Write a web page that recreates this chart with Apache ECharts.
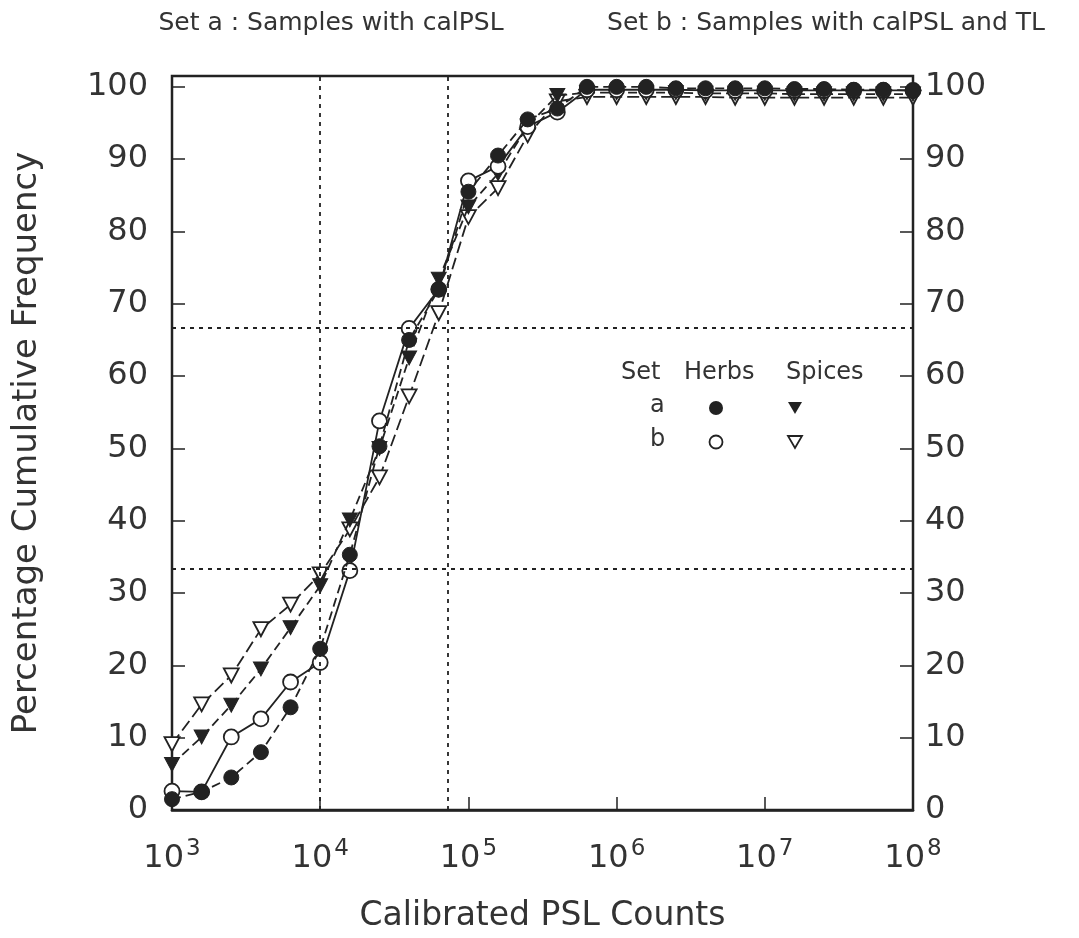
<!DOCTYPE html>
<html>
<head>
<meta charset="utf-8">
<script src="https://cdn.jsdelivr.net/npm/echarts@6/dist/echarts.min.js"></script>
<style>
html,body{margin:0;padding:0;background:#fff;}
#chart{width:1079px;height:938px;}
</style>
</head>
<body>
<div id="chart"></div>
<script>
// Calibrated PSL counts (x positions, every 0.2 decade)
const xValues = [1000, 1585, 2512, 3981, 6310, 10000, 15849, 25119, 39811, 63096,
  100000, 158489, 251189, 398107, 630957, 1000000, 1584893, 2511886, 3981072, 6309573,
  10000000, 15848932, 25118864, 39810717, 63095734, 100000000];

// Percentage cumulative frequency
const aHerbs  = [1.5, 2.5, 4.5, 8.0, 14.2, 22.3, 35.3, 50.3, 65.0, 72.0, 85.5, 90.5, 95.5, 97.0, 100, 100, 100, 99.8, 99.8, 99.8, 99.8, 99.7, 99.7, 99.6, 99.6, 99.5];
const bHerbs  = [2.6, 2.5, 10.1, 12.6, 17.7, 20.4, 33.1, 53.8, 66.6, 72.0, 87.0, 89.0, 94.5, 96.5, 99.6, 99.6, 99.6, 99.6, 99.5, 99.5, 99.5, 99.5, 99.5, 99.5, 99.5, 99.5];
const aSpices = [6.3, 10.1, 14.5, 19.5, 25.2, 31.0, 40.1, 50.0, 62.5, 73.4, 83.4, 88.0, 94.6, 98.8, 99.2, 99.2, 99.2, 99.2, 99.1, 99.1, 99.1, 99.0, 99.0, 99.0, 99.0, 99.0];
const bSpices = [9.1, 14.6, 18.6, 25.0, 28.4, 32.6, 38.8, 46.0, 57.2, 68.7, 82.0, 86.0, 93.3, 98.0, 98.6, 98.6, 98.6, 98.6, 98.6, 98.5, 98.5, 98.5, 98.5, 98.5, 98.5, 98.5];

// Reference (dashed) lines
const refLinesX = [10000, 72000];
const refLinesY = [33.3, 66.7];

const titleA = 'Set a : Samples with calPSL';
const titleB = 'Set b : Samples with calPSL and TL';
const xName = 'Calibrated PSL Counts';
const yName = 'Percentage Cumulative Frequency';
const legendHead = ['Set', 'Herbs', 'Spices'];
const legendRows = ['a', 'b'];

const INK = '#222';
const TXT = '#333';
const FONT = '"DejaVu Sans", sans-serif';
const TRI = 'path://M0,0L20,0L10,18Z';

function pairs(ys){ return xValues.map((x,i)=>[x, ys[i]]); }

const chart = echarts.init(document.getElementById('chart'), null, {renderer:'canvas'});

const yAxisBase = {
  type:'value', min:0, max:101.5, interval:10,
  axisLine:{show:true, lineStyle:{color:INK, width:2}},
  axisTick:{show:true, inside:true, length:13, lineStyle:{color:INK, width:1.5}},
  splitLine:{show:false},
  axisLabel:{showMaxLabel:false, fontFamily:FONT, fontSize:32, color:TXT}
};

const option = {
  animation:false,
  backgroundColor:'#fff',
  title:[
    {text:titleA, left:326, top:6, textAlign:'center', textStyle:{fontFamily:FONT, fontSize:25, fontWeight:'normal', color:TXT}},
    {text:titleB, left:821, top:6, textAlign:'center', textStyle:{fontFamily:FONT, fontSize:25, fontWeight:'normal', color:TXT}}
  ],
  grid:{left:172, right:166, top:76, bottom:125, show:true, borderColor:INK, borderWidth:2.5, backgroundColor:'transparent'},
  xAxis:{
    type:'log', logBase:10, min:1000, max:100000000, splitNumber:5,
    axisLine:{show:true, lineStyle:{color:INK, width:2.5}},
    axisTick:{show:true, inside:true, length:13, lineStyle:{color:INK, width:1.5}},
    minorTick:{show:false},
    splitLine:{show:false},
    axisLabel:{
      margin:28,
      formatter:function(v){ return '{b|10}{s|' + Math.round(Math.log10(v)) + '}'; },
      rich:{
        b:{fontFamily:FONT, fontSize:32, color:TXT},
        s:{fontFamily:FONT, fontSize:23, color:TXT, padding:[0,0,18,2]}
      }
    },
    name:xName, nameLocation:'middle', nameGap:90,
    nameTextStyle:{fontFamily:FONT, fontSize:33, color:TXT}
  },
  yAxis:[
    Object.assign({}, yAxisBase, {
      position:'left',
      axisLabel:Object.assign({}, yAxisBase.axisLabel, {margin:24}),
      name:yName, nameLocation:'middle', nameGap:128, nameRotate:90,
      nameTextStyle:{fontFamily:FONT, fontSize:34, color:TXT}
    }),
    Object.assign({}, yAxisBase, {
      position:'right',
      axisLabel:Object.assign({}, yAxisBase.axisLabel, {margin:12})
    })
  ],
  series:[
    {
      name:'b Spices', type:'line', data:pairs(bSpices),
      symbol:TRI, symbolSize:[15,14],
      itemStyle:{color:'#fff', borderColor:INK, borderWidth:1.8},
      lineStyle:{color:INK, width:1.8, type:[12,5]},
      z:2,
      markLine:{
        silent:true, symbol:['none','none'], label:{show:false},
        lineStyle:{color:INK, width:1.8, type:[4,5]},
        data: refLinesX.map(v=>({xAxis:v})).concat(refLinesY.map(v=>({yAxis:v})))
      }
    },
    {
      name:'a Spices', type:'line', data:pairs(aSpices),
      symbol:TRI, symbolSize:[15,14],
      itemStyle:{color:INK, borderColor:INK, borderWidth:1},
      lineStyle:{color:INK, width:1.8, type:[9,5]},
      z:3
    },
    {
      name:'b Herbs', type:'line', data:pairs(bHerbs),
      symbol:'circle', symbolSize:15,
      itemStyle:{color:'#fff', borderColor:INK, borderWidth:1.8},
      lineStyle:{color:INK, width:1.8, type:'solid'},
      z:4
    },
    {
      name:'a Herbs', type:'line', data:pairs(aHerbs),
      symbol:'circle', symbolSize:15,
      itemStyle:{color:INK, borderColor:INK, borderWidth:1},
      lineStyle:{color:INK, width:1.8, type:[9,5]},
      z:5
    }
  ],
  graphic:[
    {type:'text', left:621, top:361, style:{text:legendHead[0], font:'24px "DejaVu Sans"', fill:TXT}},
    {type:'text', left:684, top:361, style:{text:legendHead[1], font:'24px "DejaVu Sans"', fill:TXT}},
    {type:'text', left:786, top:361, style:{text:legendHead[2], font:'24px "DejaVu Sans"', fill:TXT}},
    {type:'text', left:650, top:394, style:{text:legendRows[0], font:'24px "DejaVu Sans"', fill:TXT}},
    {type:'text', left:650, top:428, style:{text:legendRows[1], font:'24px "DejaVu Sans"', fill:TXT}},
    {type:'circle', shape:{cx:716, cy:408, r:7}, style:{fill:INK}},
    {type:'polygon', shape:{points:[[788,402],[802,402],[795,414]]}, style:{fill:INK}},
    {type:'circle', shape:{cx:716, cy:442, r:6.5}, style:{fill:'#fff', stroke:INK, lineWidth:1.8}},
    {type:'polygon', shape:{points:[[788,436],[802,436],[795,448]]}, style:{fill:'#fff', stroke:INK, lineWidth:1.8}}
  ]
};
chart.setOption(option);
</script>
</body>
</html>
